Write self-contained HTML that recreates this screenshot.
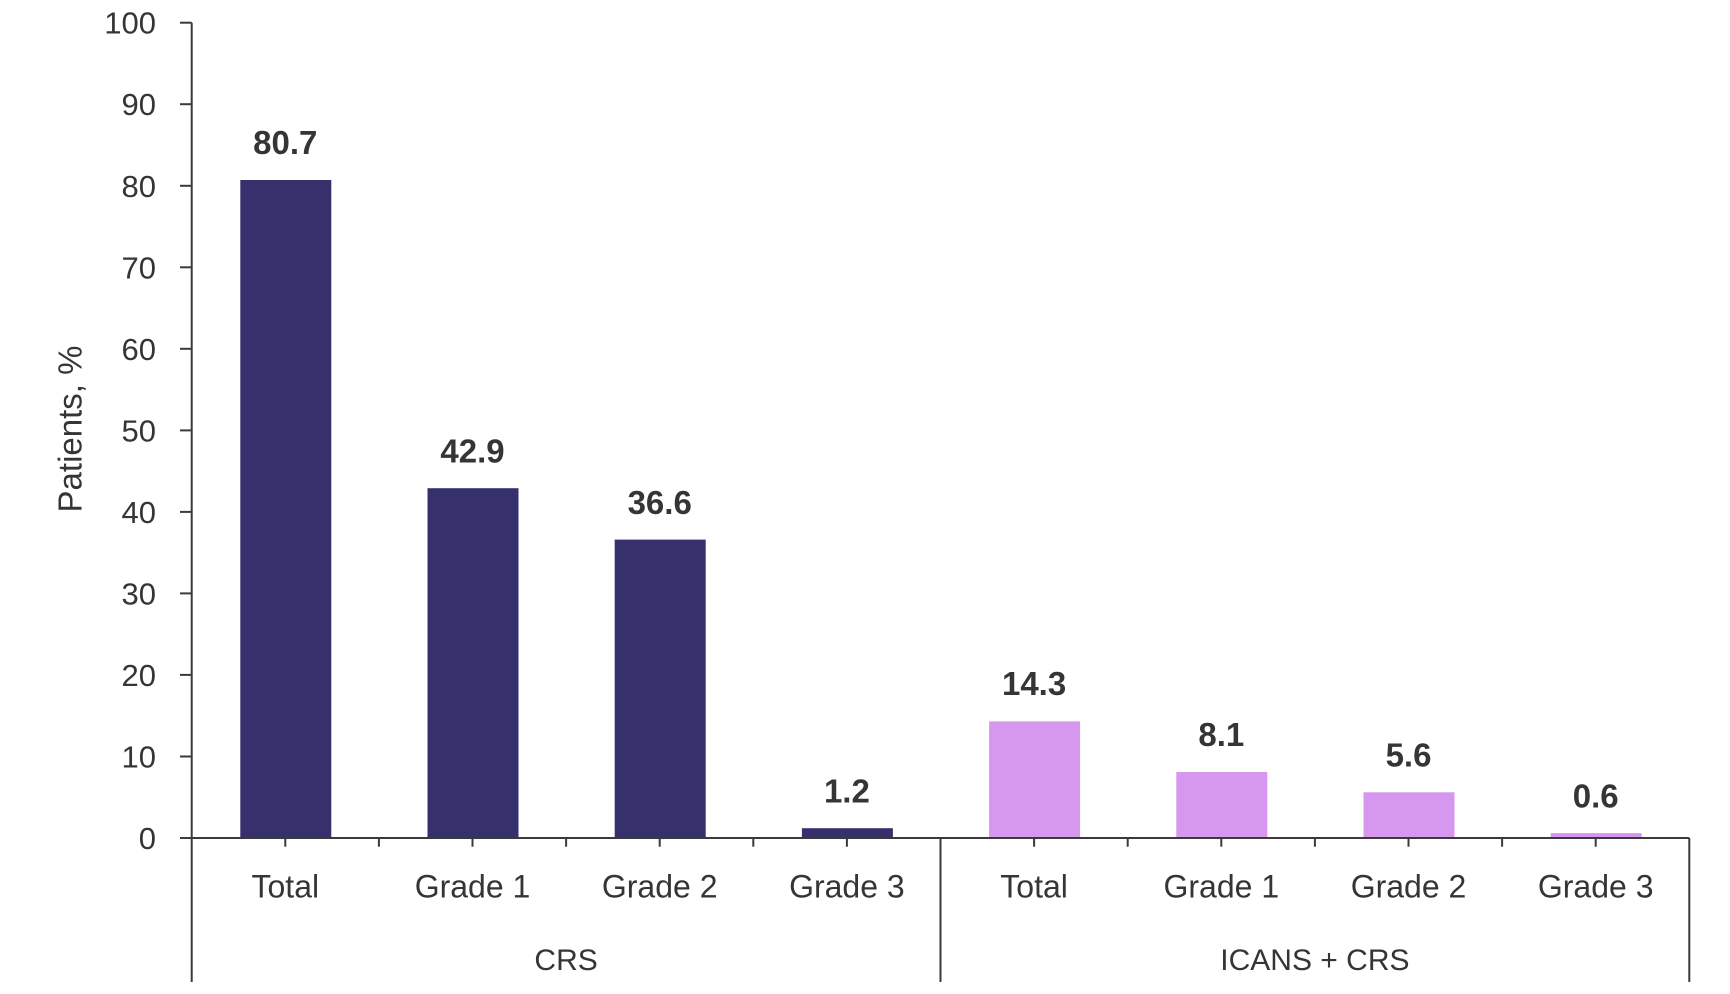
<!DOCTYPE html>
<html>
<head>
<meta charset="utf-8">
<style>
  html, body { margin:0; padding:0; background:#ffffff; }
  svg { display:block; }
  text { font-family: "Liberation Sans", "DejaVu Sans", sans-serif; fill:#353535; }
</style>
</head>
<body>
<svg width="1730" height="994" viewBox="0 0 1730 994" xmlns="http://www.w3.org/2000/svg">
  <!-- Bars CRS -->
  <g fill="#36316c">
    <rect x="240.3" y="180.0" width="91" height="658.0"/>
    <rect x="427.5" y="488.2" width="91" height="349.8"/>
    <rect x="614.7" y="539.6" width="91" height="298.4"/>
    <rect x="801.9" y="828.2" width="91" height="9.8"/>
  </g>
  <!-- Bars ICANS + CRS -->
  <g fill="#d697ef">
    <rect x="989.1" y="721.4" width="91" height="116.6"/>
    <rect x="1176.3" y="772.0" width="91" height="66.0"/>
    <rect x="1363.5" y="792.3" width="91" height="45.7"/>
    <rect x="1550.7" y="833.1" width="91" height="4.9"/>
  </g>

  <!-- Axes -->
  <g stroke="#3a3a3a" stroke-width="2" fill="none">
    <line x1="191.7" y1="22.7" x2="191.7" y2="982"/>
    <line x1="180" y1="838" x2="1689.3" y2="838"/>
    <line x1="1689.3" y1="838" x2="1689.3" y2="982"/>
    <line x1="940.5" y1="838" x2="940.5" y2="982"/>
    <!-- y ticks -->
    <line x1="180" y1="22.7" x2="191.7" y2="22.7"/>
    <line x1="180" y1="104.2" x2="191.7" y2="104.2"/>
    <line x1="180" y1="185.8" x2="191.7" y2="185.8"/>
    <line x1="180" y1="267.3" x2="191.7" y2="267.3"/>
    <line x1="180" y1="348.8" x2="191.7" y2="348.8"/>
    <line x1="180" y1="430.4" x2="191.7" y2="430.4"/>
    <line x1="180" y1="511.9" x2="191.7" y2="511.9"/>
    <line x1="180" y1="593.4" x2="191.7" y2="593.4"/>
    <line x1="180" y1="674.9" x2="191.7" y2="674.9"/>
    <line x1="180" y1="756.5" x2="191.7" y2="756.5"/>
    <!-- x ticks -->
    <line x1="285.3" y1="838" x2="285.3" y2="846.7"/>
    <line x1="378.9" y1="838" x2="378.9" y2="846.7"/>
    <line x1="472.5" y1="838" x2="472.5" y2="846.7"/>
    <line x1="566.1" y1="838" x2="566.1" y2="846.7"/>
    <line x1="659.7" y1="838" x2="659.7" y2="846.7"/>
    <line x1="753.3" y1="838" x2="753.3" y2="846.7"/>
    <line x1="846.9" y1="838" x2="846.9" y2="846.7"/>
    <line x1="1034.1" y1="838" x2="1034.1" y2="846.7"/>
    <line x1="1127.7" y1="838" x2="1127.7" y2="846.7"/>
    <line x1="1221.3" y1="838" x2="1221.3" y2="846.7"/>
    <line x1="1314.9" y1="838" x2="1314.9" y2="846.7"/>
    <line x1="1408.5" y1="838" x2="1408.5" y2="846.7"/>
    <line x1="1502.1" y1="838" x2="1502.1" y2="846.7"/>
    <line x1="1595.7" y1="838" x2="1595.7" y2="846.7"/>
  </g>

  <!-- Y tick labels -->
  <g font-size="31" text-anchor="end">
    <text x="156" y="33.7">100</text>
    <text x="156" y="115.2">90</text>
    <text x="156" y="196.8">80</text>
    <text x="156" y="278.3">70</text>
    <text x="156" y="359.8">60</text>
    <text x="156" y="441.4">50</text>
    <text x="156" y="522.9">40</text>
    <text x="156" y="604.4">30</text>
    <text x="156" y="685.9">20</text>
    <text x="156" y="767.5">10</text>
    <text x="156" y="849">0</text>
  </g>

  <!-- Y axis title -->
  <text font-size="33" text-anchor="middle" transform="translate(81.5,429) rotate(-90)">Patients, %</text>

  <!-- Data labels -->
  <g font-size="33" font-weight="bold" text-anchor="middle" fill="#353535">
    <text x="285.3" y="154">80.7</text>
    <text x="472.5" y="462.5">42.9</text>
    <text x="659.7" y="513.8">36.6</text>
    <text x="846.9" y="802.3">1.2</text>
    <text x="1034.1" y="695.2">14.3</text>
    <text x="1221.3" y="746">8.1</text>
    <text x="1408.5" y="766.5">5.6</text>
    <text x="1595.7" y="807.3">0.6</text>
  </g>

  <!-- Category labels -->
  <g font-size="32" text-anchor="middle">
    <text x="285.3" y="897.7">Total</text>
    <text x="472.5" y="897.7">Grade 1</text>
    <text x="659.7" y="897.7">Grade 2</text>
    <text x="846.9" y="897.7">Grade 3</text>
    <text x="1034.1" y="897.7">Total</text>
    <text x="1221.3" y="897.7">Grade 1</text>
    <text x="1408.5" y="897.7">Grade 2</text>
    <text x="1595.7" y="897.7">Grade 3</text>
  </g>

  <!-- Group labels -->
  <g font-size="30" text-anchor="middle">
    <text x="566.1" y="970">CRS</text>
    <text x="1314.9" y="970">ICANS + CRS</text>
  </g>
</svg>
</body>
</html>
